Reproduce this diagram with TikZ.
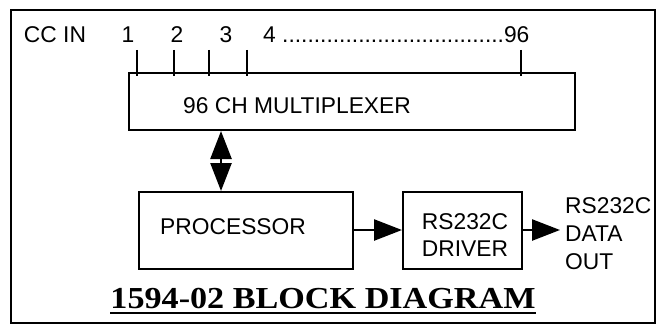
\documentclass[tikz,border=0pt]{standalone}
\usepackage{fontspec}
\setmainfont{Liberation Sans}
\newfontfamily\titlefont[FakeStretch=1.12]{Liberation Serif}
\usetikzlibrary{arrows.meta}
\tikzset{
  blk/.style={draw, line width=2pt, inner sep=0pt},
  lbl/.style={inner sep=0pt, font=\fontsize{22.8}{27}\selectfont},
  tick/.style={line width=2pt},
  bigtip/.tip={Triangle[length=28pt,width=21pt]},
  conn/.style={line width=2.5pt, -bigtip},
}
\begin{document}
\begin{tikzpicture}[x=1pt,y=-1pt]
\useasboundingbox (0,0) rectangle (661,326);
% frame
\draw[line width=2.8pt] (11,10) rectangle (655,323);
% multiplexer
\node[blk, minimum width=446pt, minimum height=57pt] (mux) at (352,101.5) {};
\node[lbl, anchor=west] (muxt) at (183,106) {96 CH MULTIPLEXER};
% channel labels
\node[lbl] (ccin) at (55,35) {CC IN};
\node[lbl] (c1) at (128,35) {1};
\node[lbl] (c2) at (177,35) {2};
\node[lbl] (c3) at (226,35) {3};
\node[lbl, anchor=west] (c4) at (263,35) {4 ...................................96};
% ticks
\coordinate (t1) at (137,50);
\coordinate (t2) at (174,50);
\coordinate (t3) at (209,50);
\coordinate (t4) at (247,50);
\coordinate (t96) at (521,50);
\foreach \t in {t1,t2,t3,t4,t96} \draw[tick] (\t) -- ++(0,26);
% processor and driver
\node[blk, minimum width=214pt, minimum height=77pt] (proc) at (246,230.5) {};
\node[lbl, anchor=west] (proct) at (160,227) {PROCESSOR};
\node[blk, minimum width=119pt, minimum height=77pt] (drv) at (462.5,230.5) {};
\node[lbl, align=center] (drvt) at (465,235) {RS232C\\DRIVER};
\node[lbl, align=left, anchor=west, font=\fontsize{22.8}{28}\selectfont] (out) at (565,233.5) {RS232C\\DATA\\OUT};
% connectors
\coordinate (ax) at (221,0);
\draw[line width=2.5pt, bigtip-bigtip] (mux.south -| ax) -- (proc.north -| ax);
\draw[conn] (proc.east |- 0,230) -- (drv.west |- 0,230);
\draw[conn] (drv.east |- 0,230) -- (560,230);
% title
\node[inner sep=0pt, anchor=base, font=\titlefont\bfseries\fontsize{30.5}{34}\selectfont] (title) at (323,308) {1594-02 BLOCK DIAGRAM};
\draw[line width=1.3pt] ([yshift=-5pt]title.base west) -- ([yshift=-5pt]title.base east);
\end{tikzpicture}
\end{document}
